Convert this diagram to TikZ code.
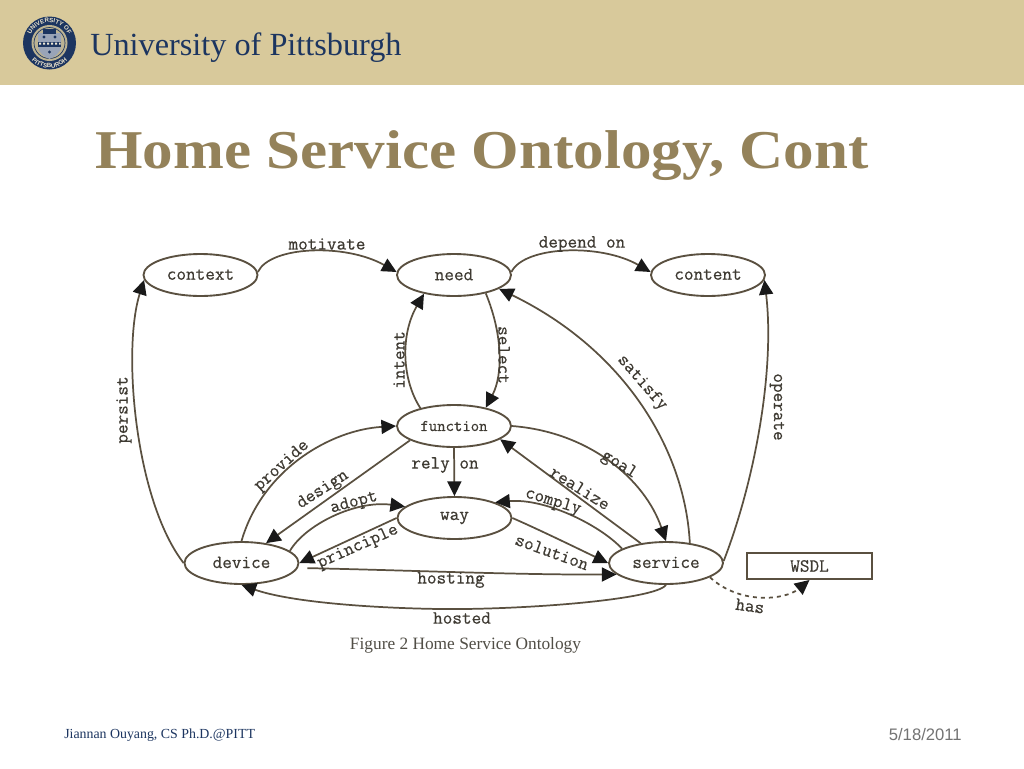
\documentclass[tikz,border=0pt]{standalone}
\usepackage{fontspec}
\setmainfont{Liberation Serif}
\newfontfamily\sansf{Liberation Sans}
\newfontfamily\monof{Latin Modern Mono}[FakeBold=0.5]
\usetikzlibrary{shapes.geometric,arrows.meta,decorations.text,calc}
\definecolor{band}{HTML}{D8C99B}
\definecolor{navy}{HTML}{1C3560}
\definecolor{titlec}{HTML}{94825A}
\definecolor{edgec}{HTML}{5A5040}
\definecolor{inkc}{HTML}{3E3A32}
\tikzset{
 onto/.style={ellipse,draw=edgec,line width=1.4pt,minimum width=85.5pt,minimum height=31.5pt,inner sep=0pt,text=inkc,font=\fontsize{14}{14}\selectfont\monof},
 rectbox/.style={rectangle,draw=edgec,line width=1.5pt,minimum width=93.5pt,minimum height=19.5pt,inner sep=0pt,text=inkc,font=\fontsize{14}{14}\selectfont\monof},
 rel/.style={draw=edgec,line width=1.3pt,-{Triangle[length=11pt,width=10.5pt,color=black!90]}},
 lab/.style={inner sep=0pt,text=inkc,font=\fontsize{14}{14}\selectfont\monof},
}
\begin{document}
\begin{tikzpicture}[x=0.75pt,y=-0.75pt]
\useasboundingbox (0,0) rectangle (1024,768);
\fill[white] (0,0) rectangle (1024,768);
% header
\fill[band] (0,0) rectangle (1024,85);
\fill[navy] (49.5,43) circle (26.5);
\fill[band!85!navy] (49.5,43) circle (18);
\draw[navy,line width=0.5pt] (49.5,43) circle (15.5);
\fill[navy!45!white] (38,33) -- (61,33) -- (61,46) .. controls (61,53) and (54,57) .. (49.5,59) .. controls (45,57) and (38,53) .. (38,46) -- cycle;
\fill[navy] (38,42) rectangle (61,47);
\fill[band!40!white] (39,42.5) rectangle (41,44.5) (43,42.5) rectangle (45,44.5) (47,42.5) rectangle (49,44.5) (51,42.5) rectangle (53,44.5) (55,42.5) rectangle (57,44.5) (59,42.5) rectangle (60.5,44.5);
\fill[navy] (43,29) rectangle (56,34);
\fill[navy] (44,37) circle (1.6) (55,37) circle (1.6) (49.5,52) circle (1.6);
\path[postaction={decorate,decoration={text along path,text align=center,text={|\fontsize{4.6}{5}\selectfont\bfseries\sansf\color{band!50!white}|UNIVERSITY OF}}}] (29,43) arc[start angle=180,end angle=360,radius=20.5];
\path[postaction={decorate,decoration={text along path,text align=center,text={|\fontsize{4.6}{5}\selectfont\bfseries\sansf\color{band!50!white}|PITTSBURGH}}}] (24.5,43) arc[start angle=180,end angle=0,radius=25];
\node[anchor=west,inner sep=0pt,text=navy,font=\fontsize{24.2}{25}\selectfont] (uni) at (90,48) {University of Pittsburgh};
% title
\node[anchor=base west,inner sep=0pt,text=titlec,font=\fontsize{41}{41}\selectfont\bfseries] (title) at (95,168) {\scalebox{1.117}[1]{Home Service Ontology, Cont}};
% nodes
\node[onto] (context) at (200.5,275) {\raisebox{0.7pt}{context}};
\node[onto] (need) at (454,275) {\raisebox{0.7pt}{need}};
\node[onto] (content) at (708,275) {\raisebox{0.7pt}{content}};
\node[onto,font=\fontsize{12.2}{12}\selectfont\monof] (function) at (454,426) {function};
\node[onto] (way) at (454.5,518) {\raisebox{-2pt}{way}};
\node[onto] (device) at (241.5,563) {\raisebox{1pt}{device}};
\node[onto] (service) at (666,563) {\raisebox{1pt}{service}};
\node[rectbox] (wsdl) at (809.5,566) {WSDL};
% edges
\draw[rel] (context.3) .. controls (270,246) and (345,243) .. (need.177);
\draw[rel] (need.3) .. controls (524,246) and (600,243) .. (content.177);
\draw[rel] (function.152) .. controls (402,380) and (400,335) .. (need.212);
\draw[rel] (need.-30) .. controls (503,335) and (503,375) .. (function.30);
\draw[rel] (device.180) .. controls (135,500) and (122,350) .. (context.185);
\draw[rel] (service.40) .. controls (685,450) and (625,350) .. (need.-17);
\draw[rel] (service.2) .. controls (755,480) and (775,370) .. (content.-5);
\draw[rel] (device.90) .. controls (262,470) and (330,430) .. (function.180);
\draw[rel] (function.198) -- (device.39);
\draw[rel] (function.south) -- (way.north);
\draw[rel] (device.14) .. controls (305,525) and (355,500) .. (way.167);
\draw[rel] (way.180) -- (device.0);
\draw[rel,shorten <=7pt] (device.-5) .. controls (400,570) and (520,575) .. (service.193);
\draw[rel] (service.-90) .. controls (655,600) and (520,610) .. (440,609) .. controls (370,608) and (290,602) .. (device.-90);
\draw[rel] (way.0) .. controls (540,530) and (585,552) .. (service.180);
\draw[rel] (service.162) .. controls (600,525) and (545,498) .. (way.21);
\draw[rel] (service.142) -- (function.-16);
\draw[rel] (function.0) .. controls (590,432) and (645,480) .. (service.90);
\draw[rel,dashed] (service.-18) .. controls (740,605) and (785,600) .. (wsdl.south);
% edge labels
\node[lab] (lmot) at (327,244) {motivate};
\node[lab] (ldep) at (582,244) {depend on};
\node[lab,rotate=90] (lint) at (399,360) {intent};
\node[lab,rotate=-90] (lsel) at (504,355) {select};
\node[lab,rotate=90] (lper) at (124,410) {persist};
\node[lab,rotate=-49] (lsat) at (642,383) {satisfy};
\node[lab,rotate=-90] (lope) at (777,407) {operate};
\node[lab,rotate=42] (lpro) at (282,466) {provide};
\node[lab,rotate=33] (ldes) at (323,490) {design};
\node[lab,rotate=15] (lado) at (354,503) {adopt};
\node[lab,rotate=24] (lpri) at (358,547) {principle};
\node[lab] (lrel) at (445,465) {rely on};
\node[lab] (lhos) at (451,580) {hosting};
\node[lab] (lhod) at (462,618) {hosted};
\node[lab,rotate=-20] (lsol) at (552,552) {solution};
\node[lab,rotate=-17] (lcom) at (553,502) {comply};
\node[lab,rotate=-32] (lrea) at (580,488) {realize};
\node[lab,rotate=-32] (lgoa) at (619,465) {goal};
\node[lab,rotate=-8] (lhas) at (750,606) {has};
% caption and footer
\node[inner sep=0pt,text=inkc!90,font=\fontsize{13}{13}\selectfont] (cap) at (465.5,645) {Figure 2 Home Service Ontology};
\node[anchor=west,inner sep=0pt,text=navy,font=\fontsize{10.4}{11}\selectfont] (foot) at (64,735.5) {Jiannan Ouyang, CS Ph.D.@PITT};
\node[anchor=east,inner sep=0pt,text=black!55,font=\fontsize{12.5}{13}\selectfont\sansf] (date) at (962,735) {5/18/2011};
\end{tikzpicture}
\end{document}
